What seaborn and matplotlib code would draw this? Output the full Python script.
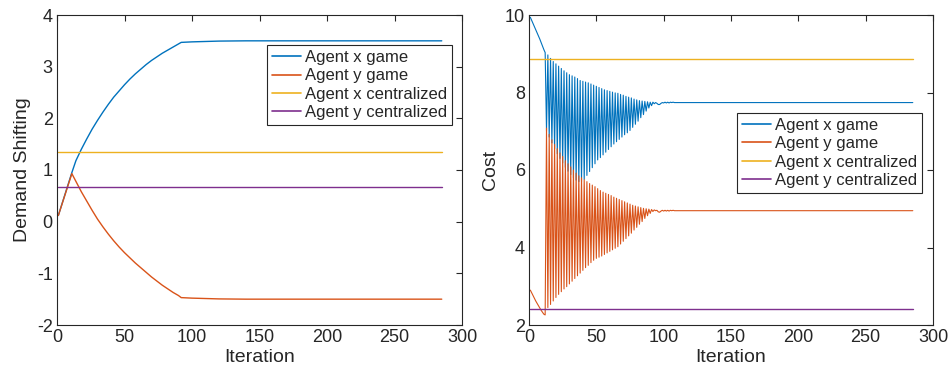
import numpy as np
import pandas as pd
import matplotlib
matplotlib.use("Agg")
import matplotlib.pyplot as plt
import seaborn as sns

# ---------------- data ----------------
COLORS = ["#0072BD", "#D95319", "#EDB120", "#7E2F8E"]
LABELS = ["Agent x game", "Agent y game", "Agent x centralized", "Agent y centralized"]

# Left panel: demand shifting (sampled iterations)
ds_iter = [1, 11, 14, 18, 22, 26, 30, 34, 38, 42, 46, 50, 54, 58, 62, 66, 70, 74, 78, 82, 86, 90, 92,
           100, 120, 140, 285]
ds_x_game = [0.12, 0.95, 1.18, 1.40, 1.60, 1.79, 1.96, 2.12, 2.27, 2.41, 2.53, 2.65, 2.76, 2.86, 2.95,
             3.04, 3.12, 3.19, 3.26, 3.32, 3.38, 3.44, 3.47, 3.48, 3.495, 3.50, 3.50]
ds_y_game = [0.12, 0.93, 0.78, 0.58, 0.40, 0.22, 0.05, -0.10, -0.24, -0.37, -0.49, -0.60, -0.70, -0.80,
             -0.89, -0.98, -1.07, -1.15, -1.23, -1.30, -1.37, -1.43, -1.47, -1.48, -1.495, -1.50, -1.50]
ds_x_central = 1.35
ds_y_central = 0.68

# Right panel: cost
cost_pre_iter = list(range(1, 13))
cost_x_pre = [9.94, 9.86, 9.78, 9.70, 9.62, 9.54, 9.46, 9.38, 9.29, 9.20, 9.11, 9.03]
cost_y_pre = [2.90, 2.83, 2.76, 2.69, 2.62, 2.56, 2.50, 2.44, 2.38, 2.33, 2.28, 2.26]

# oscillation phase: odd iterations 13..93, even iterations 14..94
cost_x_odd = [7.00, 6.85, 6.70, 6.55, 6.42, 6.30, 6.18, 6.07, 5.97, 5.88,
              5.80, 5.74, 5.70, 5.70, 5.76, 5.86, 5.96, 6.06, 6.16, 6.26,
              6.32, 6.39, 6.46, 6.53, 6.60, 6.67, 6.73, 6.79, 6.85, 6.91,
              6.96, 7.02, 7.10, 7.18, 7.26, 7.35, 7.43, 7.52, 7.60, 7.66, 7.71]
cost_x_even = [8.97, 8.88, 8.80, 8.74, 8.68, 8.62, 8.56, 8.51, 8.46, 8.43,
               8.40, 8.36, 8.31, 8.29, 8.27, 8.25, 8.22, 8.19, 8.16, 8.13,
               8.10, 8.07, 8.05, 8.03, 8.01, 7.99, 7.98, 7.95, 7.93, 7.90,
               7.88, 7.86, 7.83, 7.81, 7.79, 7.78, 7.77, 7.76, 7.75, 7.75, 7.74]
cost_y_odd = [7.08, 6.92, 6.78, 6.66, 6.55, 6.44, 6.35, 6.24, 6.16, 6.08,
              6.00, 5.92, 5.85, 5.80, 5.75, 5.70, 5.65, 5.61, 5.57, 5.52,
              5.47, 5.43, 5.40, 5.37, 5.34, 5.30, 5.27, 5.24, 5.21, 5.18,
              5.15, 5.12, 5.09, 5.07, 5.05, 5.03, 5.01, 5.00, 4.99, 4.98, 4.97]
cost_y_even = [2.45, 2.53, 2.62, 2.71, 2.79, 2.86, 2.93, 2.99, 3.06, 3.13,
               3.20, 3.27, 3.34, 3.41, 3.48, 3.54, 3.61, 3.67, 3.72, 3.75,
               3.78, 3.82, 3.86, 3.90, 3.94, 3.98, 4.02, 4.09, 4.16, 4.23,
               4.30, 4.37, 4.45, 4.52, 4.60, 4.67, 4.75, 4.82, 4.88, 4.93, 4.95]

cost_tail_iter = list(range(95, 111))
cost_x_tail = [7.72, 7.69, 7.69, 7.72, 7.74, 7.73, 7.75, 7.73, 7.75, 7.73, 7.75, 7.74, 7.75, 7.74, 7.74, 7.74]
cost_y_tail = [4.96, 4.92, 4.91, 4.94, 4.96, 4.94, 4.96, 4.94, 4.96, 4.94, 4.96, 4.95, 4.96, 4.95, 4.95, 4.95]
cost_end_iter = [111, 285]
cost_x_final = 7.74
cost_y_final = 4.95
cost_x_central = 8.86
cost_y_central = 2.42

iter_span = [1, 285]

# ---------------- assemble series ----------------
osc_iter = list(range(13, 95))
def interleave(odd, even):
    out = []
    for k in range(len(odd)):
        out.append(odd[k])
        out.append(even[k])
    return out

cost_iter = cost_pre_iter + osc_iter + cost_tail_iter + cost_end_iter
cost_x_game = cost_x_pre + interleave(cost_x_odd, cost_x_even) + cost_x_tail + [cost_x_final] * 2
cost_y_game = cost_y_pre + interleave(cost_y_odd, cost_y_even) + cost_y_tail + [cost_y_final] * 2

# ---------------- style ----------------
sns.set_style("white")
plt.rcParams["font.family"] = ["Liberation Sans", "DejaVu Sans"]
plt.rcParams["axes.unicode_minus"] = False
TXT = "#262626"

fig = plt.figure(figsize=(9.52, 3.77), dpi=100)
axL = fig.add_axes([57 / 952, 1 - 325 / 377, 405 / 952, 310 / 377])
axR = fig.add_axes([529 / 952, 1 - 325 / 377, 404 / 952, 310 / 377])

def draw(ax, x, ys, centrals, game_lw):
    sns.lineplot(x=x, y=ys[0], color=COLORS[0], lw=game_lw, label=LABELS[0], ax=ax,
                 estimator=None, sort=False)
    sns.lineplot(x=x, y=ys[1], color=COLORS[1], lw=game_lw, label=LABELS[1], ax=ax,
                 estimator=None, sort=False)
    sns.lineplot(x=iter_span, y=[centrals[0]] * 2, color=COLORS[2], lw=1.0, label=LABELS[2], ax=ax,
                 estimator=None, sort=False)
    sns.lineplot(x=iter_span, y=[centrals[1]] * 2, color=COLORS[3], lw=1.0, label=LABELS[3], ax=ax,
                 estimator=None, sort=False)

draw(axL, ds_iter, [ds_x_game, ds_y_game], [ds_x_central, ds_y_central], 1.0)
draw(axR, cost_iter, [cost_x_game, cost_y_game], [cost_x_central, cost_y_central], 0.8)

for ax in (axL, axR):
    ax.set_xlim(0, 300)
    ax.set_xticks([0, 50, 100, 150, 200, 250, 300])
    ax.set_xlabel("Iteration", fontsize=14, color=TXT, labelpad=2)
    ax.tick_params(axis="both", direction="in", length=4, width=0.8, colors=TXT,
                   labelsize=13, top=True, right=True, pad=3)
    for s in ax.spines.values():
        s.set_visible(True)
        s.set_color(TXT)
        s.set_linewidth(0.8)

axL.set_ylim(-2, 4)
axL.set_yticks([-2, -1, 0, 1, 2, 3, 4])
axL.set_ylabel("Demand Shifting", fontsize=14, color=TXT, labelpad=4)
axR.set_ylim(2, 10)
axR.set_yticks([2, 4, 6, 8, 10])
axR.set_ylabel("Cost", fontsize=14, color=TXT, labelpad=4)

leg_kw = dict(loc="upper right", fontsize=12, frameon=True, fancybox=False, framealpha=1,
              edgecolor=TXT, handlelength=1.7, handletextpad=0.25, labelspacing=0.2,
              borderpad=0.3, borderaxespad=0)
lgL = axL.legend(bbox_to_anchor=(0.975, 0.903), **leg_kw)
lgR = axR.legend(bbox_to_anchor=(0.973, 0.684), **leg_kw)
for lg in (lgL, lgR):
    lg.get_frame().set_linewidth(0.8)
    for h in lg.get_lines():
        h.set_linewidth(1.2)

fig.savefig("out.png", dpi=100)
